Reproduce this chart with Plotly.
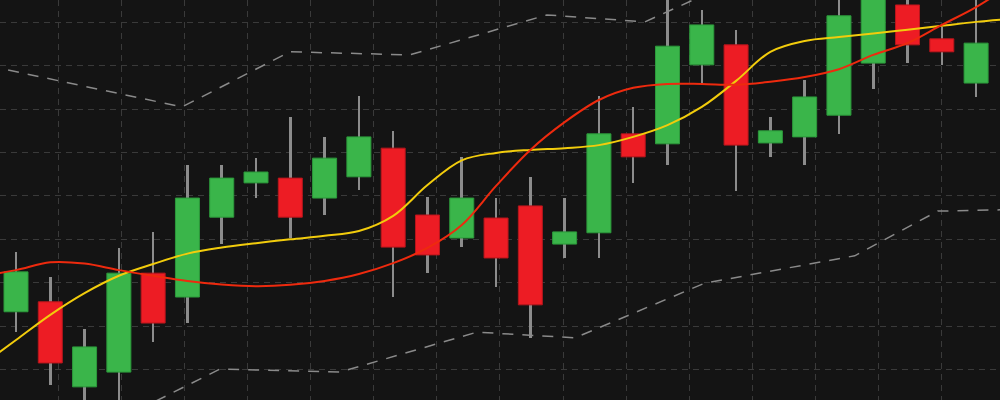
import plotly.graph_objects as go

# ---- data ----
candle_idx = list(range(29))
open_ = [23.3, 25.6, 6.0, 9.4, 32.2, 26.7, 45.1, 53.0, 54.1, 49.5, 54.4, 61.0, 45.6, 40.3, 44.9,
         47.7, 38.9, 41.5, 64.3, 62.0, 80.2, 84.8, 62.2, 63.6, 68.6, 80.6, 94.0, 86.2, 76.0]
high_ = [37.1, 31.3, 19.3, 38.0, 41.7, 57.1, 57.1, 58.7, 68.2, 63.6, 73.0, 65.0, 49.8, 59.0, 49.5,
         54.4, 49.5, 73.0, 70.5, 98.0, 92.8, 88.2, 68.2, 76.7, 98.0, 100.0, 98.0, 88.9, 98.0]
low_ = [18.6, 6.4, 1.5, 1.0, 16.3, 20.7, 38.9, 49.5, 40.3, 45.6, 51.4, 26.7, 32.2, 38.2, 29.0,
        17.3, 35.7, 35.7, 53.0, 57.1, 76.0, 51.1, 59.0, 57.1, 64.3, 74.6, 80.6, 80.2, 72.8]
close_ = [32.5, 11.5, 15.2, 32.2, 20.7, 49.5, 54.1, 55.5, 45.1, 58.7, 63.6, 38.2, 36.4, 49.5, 35.7,
          24.9, 41.7, 64.3, 59.0, 84.5, 89.4, 61.7, 65.0, 72.8, 91.5, 97.5, 84.8, 83.2, 85.2]

ma_idx = list(range(-1, 30))
ma_yellow = [11.0, 16.8, 22.6, 27.6, 31.6, 34.3, 36.7, 38.1, 39.1, 40.0, 40.8, 41.9, 45.4, 52.5,
             58.2, 59.9, 60.6, 61.0, 61.7, 63.6, 66.3, 70.5, 76.5, 83.2, 85.7, 86.6, 87.4, 88.3,
             89.2, 90.1, 90.8]
ma_red = [31.6, 32.9, 34.7, 34.4, 32.9, 31.6, 30.4, 29.6, 29.2, 29.5, 30.4, 32.0, 34.5, 38.0,
          43.3, 52.3, 60.6, 67.0, 72.1, 74.9, 75.8, 75.8, 75.6, 76.3, 77.4, 79.2, 82.5, 85.2,
          89.4, 93.5, 98.6]

upper_x = [-0.23, 4.84, 7.99, 11.49, 15.48, 18.34, 20.52]
upper_y = [79.0, 70.5, 83.2, 82.5, 91.7, 90.1, 97.9]
lower_x = [3.03, 5.95, 9.45, 13.44, 16.30, 20.09, 24.46, 26.88, 28.8]
lower_y = [-1.4, 10.1, 9.4, 18.6, 17.3, 29.9, 36.2, 46.5, 46.8]

# ---- styles ----
BG = "#141414"
GREEN, GREEN_EDGE = "#3ab54a", "#2c9a3b"
RED, RED_EDGE = "#ed1c24", "#b8161c"
WICK = "#8c8c8c"

up = [c >= o for o, c in zip(open_, close_)]
body_base = [min(o, c) for o, c in zip(open_, close_)]
body_h = [abs(c - o) for o, c in zip(open_, close_)]
wick_h = [h - l for h, l in zip(high_, low_)]

fig = go.Figure()

fig.add_trace(go.Scatter(x=upper_x, y=upper_y, mode="lines",
                         line=dict(color="#8a8a8a", width=1.5, dash="11px,9px")))
fig.add_trace(go.Scatter(x=lower_x, y=lower_y, mode="lines",
                         line=dict(color="#8a8a8a", width=1.5, dash="11px,9px")))

fig.add_trace(go.Bar(x=candle_idx, y=wick_h, base=low_, width=0.075,
                     marker=dict(color=WICK, line=dict(width=0))))
fig.add_trace(go.Bar(x=candle_idx, y=body_h, base=body_base, width=0.70,
                     marker=dict(color=[GREEN if u else RED for u in up],
                                 line=dict(color=[GREEN_EDGE if u else RED_EDGE for u in up], width=1))))

fig.add_trace(go.Scatter(x=ma_idx, y=ma_yellow, mode="lines",
                         line=dict(color="#f2cc0c", width=2, shape="spline", smoothing=1)))
fig.add_trace(go.Scatter(x=ma_idx, y=ma_red, mode="lines",
                         line=dict(color="#ee2a0e", width=2, shape="spline", smoothing=1)))

fig.update_layout(
    width=1000, height=400,
    margin=dict(l=0, r=0, t=0, b=0),
    paper_bgcolor=BG, plot_bgcolor=BG,
    showlegend=False, barmode="overlay", bargap=0,
    hovermode=False,
)
fig.update_xaxes(range=[-0.4666, 28.697], showgrid=True, gridcolor="#3a3a3a", gridwidth=1,
                 griddash="6px,5px", tickmode="linear", tick0=1.2249, dtick=1.8414,
                 showticklabels=False, zeroline=False, showline=False, ticks="")
fig.update_yaxes(range=[2.97, 95.14], showgrid=True, gridcolor="#3a3a3a", gridwidth=1,
                 griddash="6px,5px", tickmode="linear", tick0=10, dtick=10,
                 showticklabels=False, zeroline=False, showline=False, ticks="")

fig.write_html("out.html", config={"displayModeBar": False, "staticPlot": True},
               post_script="document.body.style.margin='0';document.body.style.background='#141414';")
